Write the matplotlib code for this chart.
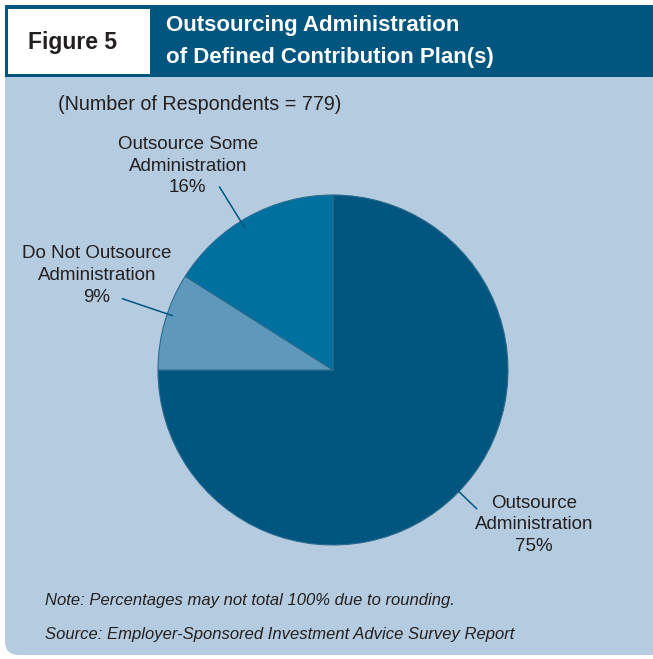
import numpy as np
import matplotlib
matplotlib.use("Agg")
import matplotlib.pyplot as plt
from matplotlib.patches import Rectangle, FancyBboxPatch

plt.rcParams['font.family'] = ['Liberation Sans', 'DejaVu Sans']

# survey shares, drawn clockwise from 12 o'clock
categories = ["Outsource\nAdministration", "Do Not Outsource\nAdministration",
              "Outsource Some\nAdministration"]
shares = [75, 9, 16]
respondents = 779

colors = ["#00567f", "#5e99bb", "#00719e"]
panel_bg = "#b5cce0"
header_bg = "#00567f"
text_col = "#231f20"

W, H = 653, 659
fig = plt.figure(figsize=(W / 100, H / 100), dpi=100)

# pixel-space layer for the panel, header and notes
bg = fig.add_axes([0, 0, 1, 1])
bg.set_xlim(0, W)
bg.set_ylim(H, 0)
bg.axis("off")

bg.add_patch(FancyBboxPatch((5, 40), W + 40, 615, boxstyle="round,pad=0,rounding_size=14",
                            facecolor=panel_bg, edgecolor="none"))
bg.add_patch(Rectangle((5, 5), W, 72, facecolor=header_bg, edgecolor="none"))
bg.add_patch(Rectangle((8, 9), 142, 65, facecolor="white", edgecolor="none"))

bg.text(72, 42, "Figure 5", fontsize=16.5, fontweight="bold", color=text_col,
        ha="center", va="center")
bg.text(166, 25, "Outsourcing Administration", fontsize=16, fontweight="bold",
        color="white", ha="left", va="center")
bg.text(166, 58, "of Defined Contribution Plan(s)", fontsize=16, fontweight="bold",
        color="white", ha="left", va="center")

bg.text(58, 105, f"(Number of Respondents = {respondents})", fontsize=14.2,
        color=text_col, ha="left", va="center")
bg.text(45, 601, "Note: Percentages may not total 100% due to rounding.",
        fontsize=12, style="italic", color=text_col, ha="left", va="center")
bg.text(45, 634, "Source: Employer-Sponsored Investment Advice Survey Report",
        fontsize=12, style="italic", color=text_col, ha="left", va="center")

# pie axes: radius 1 == 175 px, centred at (333, 370)
cx, cy, r = 333, 370, 175
ax = fig.add_axes([(cx - r) / W, (H - cy - r) / H, 2 * r / W, 2 * r / H])
wedges, _ = ax.pie(shares, colors=colors, startangle=90, counterclock=False,
                   radius=1.0, wedgeprops=dict(linewidth=0.8, edgecolor="#2c6a8e"))
ax.set_xlim(-1, 1)
ax.set_ylim(-1, 1)
ax.set_aspect("equal")
ax.axis("off")

# leader line spans (inner, outer radius) and label centres in pie units
leaders = [(1.0, 1.14), (0.97, 1.27), (0.96, 1.23)]
leader_angle_shift = [1.0, -2.5, 3.0]
label_pos = [(1.15, -0.885), (-1.35, 0.54), (-0.83, 1.165)]

for w, (r0, r1), shift, (lx, ly), name, val in zip(
        wedges, leaders, leader_angle_shift, label_pos, categories, shares):
    mid = np.deg2rad((w.theta1 + w.theta2) / 2 + shift)
    ax.plot([r0 * np.cos(mid), r1 * np.cos(mid)],
            [r0 * np.sin(mid), r1 * np.sin(mid)],
            color="#00567f", linewidth=1.1, clip_on=False)
    ax.text(lx, ly, f"{name}\n{val}%", fontsize=13.5, color=text_col,
            ha="center", va="center", linespacing=1.35, clip_on=False)

fig.savefig("out.png", dpi=100)
